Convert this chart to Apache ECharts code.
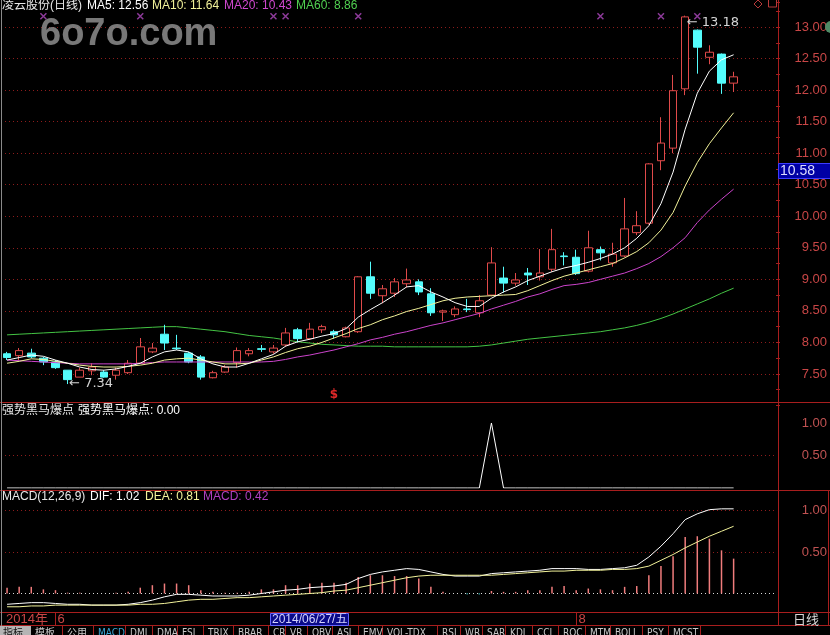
<!DOCTYPE html>
<html>
<head>
<meta charset="utf-8">
<title>凌云股份(日线)</title>
<script src="https://cdn.jsdelivr.net/npm/echarts@6/dist/echarts.min.js"></script>
<style>
html,body{margin:0;padding:0;background:#000;overflow:hidden;}
#chart{width:830px;height:635px;}
</style>
</head>
<body>
<div id="chart"></div>
<script>
// ================= DATA =================
const dates = [
 '2014/05/27','2014/05/28','2014/05/29','2014/05/30',
 '2014/06/03','2014/06/04','2014/06/05','2014/06/06','2014/06/09','2014/06/10','2014/06/11','2014/06/12','2014/06/13',
 '2014/06/16','2014/06/17','2014/06/18','2014/06/19','2014/06/20','2014/06/23','2014/06/24','2014/06/25','2014/06/26','2014/06/27','2014/06/30',
 '2014/07/01','2014/07/02','2014/07/03','2014/07/04','2014/07/07','2014/07/08','2014/07/09','2014/07/10','2014/07/11',
 '2014/07/14','2014/07/15','2014/07/16','2014/07/17','2014/07/18','2014/07/21','2014/07/22','2014/07/23','2014/07/24','2014/07/25',
 '2014/07/28','2014/07/29','2014/07/30','2014/07/31',
 '2014/08/01','2014/08/04','2014/08/05','2014/08/06','2014/08/07','2014/08/08','2014/08/11','2014/08/12','2014/08/13','2014/08/14','2014/08/15',
 '2014/08/18','2014/08/19','2014/08/20'
];
// [open, close, low, high]
const ohlc = [
 [7.82,7.76,7.72,7.85],[7.79,7.87,7.72,7.91],[7.83,7.77,7.75,7.90],[7.75,7.69,7.64,7.77],[7.69,7.60,7.58,7.72],
 [7.56,7.41,7.34,7.56],[7.45,7.56,7.45,7.60],[7.55,7.61,7.48,7.67],[7.53,7.45,7.44,7.56],[7.48,7.56,7.41,7.60],
 [7.52,7.67,7.50,7.72],[7.67,7.93,7.66,8.07],[7.85,7.91,7.83,7.99],[8.13,7.99,7.88,8.28],[7.91,7.90,7.88,8.12],
 [7.83,7.69,7.67,7.85],[7.77,7.45,7.41,7.80],[7.44,7.52,7.43,7.55],[7.53,7.61,7.52,7.64],[7.68,7.87,7.60,7.92],
 [7.82,7.87,7.78,7.91],[7.90,7.89,7.85,7.96],[7.85,7.91,7.82,7.96],[7.96,8.15,7.93,8.23],[8.20,8.06,8.00,8.23],
 [8.06,8.21,8.04,8.31],[8.20,8.25,8.15,8.28],[8.17,8.12,8.06,8.20],[8.09,8.23,8.08,8.25],[8.17,9.04,8.15,9.05],
 [9.04,8.78,8.69,9.28],[8.74,8.85,8.62,8.91],[8.78,8.96,8.72,9.02],[8.93,8.99,8.87,9.17],[8.96,8.80,8.75,9.00],
 [8.77,8.47,8.42,8.86],[8.48,8.50,8.34,8.52],[8.44,8.53,8.40,8.57],[8.53,8.52,8.48,8.69],[8.47,8.66,8.40,8.75],
 [8.75,9.26,8.73,9.51],[9.02,8.94,8.79,9.20],[8.94,8.99,8.90,9.10],[9.10,9.07,8.91,9.18],[9.04,9.10,8.98,9.48],
 [9.16,9.47,9.12,9.80],[9.37,9.36,9.22,9.43],[9.35,9.09,9.07,9.47],[9.13,9.50,9.11,9.77],[9.47,9.42,9.30,9.52],
 [9.26,9.40,9.20,9.58],[9.37,9.80,9.35,10.29],[9.74,9.85,9.70,10.08],[9.89,10.83,9.87,10.84],[10.88,11.16,10.73,11.57],
 [11.08,11.99,11.00,12.24],[12.02,13.16,11.92,13.18],[12.95,12.68,12.26,12.96],[12.52,12.60,12.41,12.71],[12.57,12.11,11.94,12.58],
 [12.11,12.21,11.97,12.29]
];
const ma5 = [7.72,7.76,7.80,7.78,7.72,7.67,7.61,7.57,7.56,7.58,
 7.62,7.67,7.77,7.85,7.88,7.85,7.74,7.66,7.61,7.61,
 7.67,7.74,7.81,7.94,8.01,8.05,8.10,8.14,8.22,8.40,
 8.52,8.63,8.75,8.88,8.90,8.80,8.72,8.63,8.57,8.57,
 8.70,8.80,8.88,8.98,9.05,9.12,9.18,9.22,9.27,9.33,
 9.40,9.50,9.65,9.85,10.20,10.70,11.38,11.95,12.30,12.48,12.56];
const ma10 = [7.67,7.70,7.74,7.73,7.70,7.67,7.64,7.62,7.61,7.61,
 7.62,7.64,7.67,7.72,7.74,7.75,7.72,7.69,7.66,7.66,
 7.67,7.72,7.77,7.84,7.90,7.94,8.00,8.07,8.14,8.22,
 8.28,8.36,8.42,8.49,8.54,8.60,8.66,8.70,8.72,8.73,
 8.74,8.75,8.76,8.82,8.90,8.98,9.05,9.10,9.15,9.20,
 9.25,9.34,9.44,9.58,9.78,10.06,10.48,10.85,11.15,11.40,11.64];
const ma20 = [7.72,7.71,7.70,7.69,7.68,7.67,7.66,7.66,7.66,7.66,
 7.66,7.67,7.68,7.69,7.69,7.69,7.69,7.69,7.69,7.69,
 7.69,7.69,7.70,7.73,7.77,7.80,7.84,7.88,7.93,7.98,
 8.04,8.08,8.13,8.17,8.22,8.27,8.31,8.36,8.41,8.46,
 8.53,8.59,8.65,8.72,8.77,8.84,8.90,8.92,8.95,9.00,
 9.05,9.10,9.17,9.25,9.36,9.50,9.66,9.90,10.10,10.27,10.43];
const ma60 = [8.12,8.13,8.14,8.15,8.16,8.17,8.18,8.19,8.20,8.21,
 8.22,8.23,8.24,8.25,8.25,8.23,8.21,8.19,8.17,8.14,
 8.11,8.09,8.07,8.04,8.01,7.99,7.97,7.96,7.95,7.94,
 7.94,7.94,7.93,7.93,7.93,7.93,7.93,7.93,7.93,7.94,
 7.96,7.99,8.02,8.05,8.07,8.09,8.11,8.13,8.15,8.17,
 8.20,8.23,8.27,8.32,8.38,8.45,8.53,8.61,8.69,8.78,8.86];
const horse = [0,0,0,0,0,0,0,0,0,0, 0,0,0,0,0,0,0,0,0,0,
 0,0,0,0,0,0,0,0,0,0, 0,0,0,0,0,0,0,0,0,0,
 1,0,0,0,0,0,0,0,0,0, 0,0,0,0,0,0,0,0,0,0, 0];
const dif = [-0.13,-0.12,-0.11,-0.11,-0.12,-0.13,-0.13,-0.14,-0.14,-0.14,
 -0.13,-0.11,-0.08,-0.04,-0.01,-0.01,-0.02,-0.03,-0.03,-0.03,
 -0.02,0.00,0.02,0.04,0.05,0.07,0.08,0.09,0.11,0.18,
 0.23,0.26,0.28,0.30,0.29,0.26,0.23,0.21,0.21,0.21,
 0.24,0.25,0.26,0.27,0.28,0.30,0.30,0.30,0.29,0.29,
 0.30,0.31,0.34,0.44,0.57,0.72,0.89,0.96,1.01,1.02,1.02];
const dea = [-0.16,-0.16,-0.15,-0.15,-0.14,-0.14,-0.14,-0.14,-0.14,-0.14,
 -0.14,-0.13,-0.13,-0.12,-0.10,-0.08,-0.07,-0.07,-0.06,-0.05,
 -0.05,-0.04,-0.03,-0.02,-0.01,0.00,0.01,0.03,0.04,0.07,
 0.10,0.13,0.16,0.19,0.21,0.22,0.22,0.22,0.22,0.22,
 0.22,0.23,0.24,0.25,0.26,0.27,0.27,0.28,0.28,0.28,
 0.29,0.29,0.30,0.33,0.40,0.47,0.55,0.62,0.69,0.75,0.81];
const macd = [0.07,0.08,0.08,0.05,0.04,0.01,0.01,0.00,0.00,0.01,
 0.02,0.07,0.10,0.12,0.12,0.10,0.04,0.02,0.01,0.01,
 0.02,0.05,0.05,0.10,0.10,0.12,0.13,0.13,0.13,0.20,
 0.22,0.22,0.21,0.21,0.18,0.08,0.02,0.00,-0.01,-0.01,
 0.03,0.02,0.02,0.04,0.04,0.08,0.09,0.04,0.06,0.05,
 0.04,0.08,0.09,0.22,0.33,0.45,0.68,0.69,0.66,0.52,0.42];
const priceTicks = [7.5,8.0,8.5,9.0,9.5,10.0,10.5,11.0,11.5,12.0,12.5,13.0];
const subTicks = [0.5,1.0];
const signalIdx = [3,11,22,23,29,49,54,57];   // purple x markers on top row
const signalLevel = 13.17;
const infoIdx = 27, infoLevel = 7.17;          // red "$" marker
const cursorIdx = 22, cursorPrice = 10.58;     // crosshair readouts
const weekNames = ['日','一','二','三','四','五','六'];

// ================= STYLE =================
const N = dates.length;
const cats = dates.concat([' ', '  ', '   ']);
const RED = '#e04a4a', CYAN = '#54fcfc', AXRED = '#a81e1e', LBRED = '#c84646', GRIDRED = '#8e1c1c';
const FONT = '"Liberation Sans","Noto Sans CJK SC",sans-serif';
const fmtMain = v => (v > 7.49 && v < 13.01) ? v.toFixed(2) : '';
const fmtSub = v => subTicks.some(t => Math.abs(v - t) < 1e-6) ? v.toFixed(2) : '';
const dotted = (vals, color) => ({
  z: 1, silent: true, symbol: ['none', 'none'], label: {show: false},
  lineStyle: {color: color, type: [1, 3], width: 1},
  data: vals.map(v => ({yAxis: v}))
});

const chart = echarts.init(document.getElementById('chart'), null, {renderer: 'canvas'});

const yBase = {
  type: 'value', position: 'right', axisLine: {show: false}, splitLine: {show: false},
  axisLabel: {color: LBRED, fontSize: 13, fontFamily: 'Liberation Sans', align: 'right', margin: 51}
};

const option = {
  backgroundColor: '#000',
  animation: false,
  grid: [
    {left: 1, right: 52, top: 1.76, height: 403.74},
    {left: 1, right: 52, top: 402, height: 86},
    {left: 1, right: 52, top: 490, height: 148.5}
  ],
  xAxis: [0, 1, 2].map(i => ({
    type: 'category', gridIndex: i, data: cats, boundaryGap: true,
    axisLine: {show: false}, axisTick: {show: false}, axisLabel: {show: false}, splitLine: {show: false}
  })),
  yAxis: [
    Object.assign({}, yBase, {gridIndex: 0, min: 7.0, max: 13.4, interval: 0.5,
      axisTick: {show: true, length: 4, lineStyle: {color: AXRED}},
      minorTick: {show: true, splitNumber: 2, length: 4, lineStyle: {color: AXRED}},
      axisLabel: Object.assign({}, yBase.axisLabel, {formatter: fmtMain})}),
    Object.assign({}, yBase, {gridIndex: 1, min: 0, max: 1.323, interval: 0.5, axisTick: {show: false},
      axisLabel: Object.assign({}, yBase.axisLabel, {formatter: fmtSub, color: '#c05252'})}),
    Object.assign({}, yBase, {gridIndex: 2, min: -0.5, max: 1.247, interval: 0.5, axisTick: {show: false},
      axisLabel: Object.assign({}, yBase.axisLabel, {formatter: fmtSub, color: '#c05252'})})
  ],
  series: [
    {
      name: 'MA60', type: 'line', xAxisIndex: 0, yAxisIndex: 0, data: ma60, symbol: 'none',
      lineStyle: {color: '#44c444', width: 1}, z: 2,
      markLine: dotted(priceTicks, GRIDRED)
    },
    {
      name: 'K', type: 'candlestick', xAxisIndex: 0, yAxisIndex: 0, data: ohlc, barWidth: 8, z: 3,
      itemStyle: {color: '#000', color0: CYAN, borderColor: RED, borderColor0: CYAN, borderWidth: 1},
      markPoint: {
        symbol: 'circle', symbolSize: 1, itemStyle: {color: 'transparent'},
        label: {show: true, color: '#d4d4d4', fontSize: 13, fontFamily: 'DejaVu Sans', position: 'right', distance: 1},
        data: [
          {name: 'high', type: 'max', valueDim: 'highest',
            label: {formatter: p => '← ' + Number(p.value).toFixed(2), offset: [0, 7]}},
          {name: 'low', type: 'min', valueDim: 'lowest',
            label: {formatter: p => '← ' + Number(p.value).toFixed(2), offset: [0, 0]}},
          {name: 'info', coord: [infoIdx, infoLevel], value: 0,
            label: {formatter: '$', color: '#e02828', position: 'inside', fontSize: 12, fontWeight: 'bold'}}
        ]
      }
    },
    {name: 'MA20', type: 'line', xAxisIndex: 0, yAxisIndex: 0, data: ma20, symbol: 'none', z: 4,
      lineStyle: {color: '#cc44cc', width: 1}},
    {name: 'MA10', type: 'line', xAxisIndex: 0, yAxisIndex: 0, data: ma10, symbol: 'none', z: 4,
      lineStyle: {color: '#f2f29a', width: 1}},
    {name: 'MA5', type: 'line', xAxisIndex: 0, yAxisIndex: 0, data: ma5, symbol: 'none', z: 4,
      lineStyle: {color: '#ffffff', width: 1}},
    {name: 'signal', type: 'scatter', xAxisIndex: 0, yAxisIndex: 0,
      data: signalIdx.map(i => [i, signalLevel]),
      symbol: 'path://M0,0L10,10M10,0L0,10', symbolSize: 6,
      itemStyle: {color: 'transparent', borderColor: '#b048c0', borderWidth: 1.5}, z: 5},
    {name: '强势黑马爆点', type: 'line', xAxisIndex: 1, yAxisIndex: 1, data: horse, symbol: 'none',
      lineStyle: {color: '#ffffff', width: 1}, markLine: dotted([0.5], GRIDRED)},
    {name: 'MACD', type: 'bar', xAxisIndex: 2, yAxisIndex: 2, data: macd, barWidth: 1.5,
      itemStyle: {color: p => p.value >= 0 ? '#f07c7c' : CYAN},
      markLine: dotted([0.5, 1.0], GRIDRED)},
    {name: 'DIF', type: 'line', xAxisIndex: 2, yAxisIndex: 2, data: dif, symbol: 'none',
      lineStyle: {color: '#ffffff', width: 1}, markLine: dotted([0], '#d8d8d8')},
    {name: 'DEA', type: 'line', xAxisIndex: 2, yAxisIndex: 2, data: dea, symbol: 'none',
      lineStyle: {color: '#f2f29a', width: 1}}
  ]
};
chart.setOption(option);

// ================= DECORATIONS =================
function T(x, y, text, fill, size, extra, family) {
  const st = {text: text, fill: fill, font: size + 'px ' + (family || FONT),
    align: 'left', verticalAlign: 'middle', textAlign: 'left', textVerticalAlign: 'middle'};
  if (extra) Object.assign(st, extra);
  return {type: 'text', x: x, y: y, z: 100, silent: true, style: st};
}
function L(x1, y1, x2, y2, color) {
  return {type: 'line', z: 90, silent: true, shape: {x1: x1, y1: y1, x2: x2, y2: y2}, style: {stroke: color, lineWidth: 1}};
}
const last = N - 1;
const g = [];
// pane separators & borders
g.push(L(0, 402.5, 830, 402.5, AXRED));
g.push(L(0, 490.5, 830, 490.5, AXRED));
g.push(L(0, 612.5, 830, 612.5, AXRED));
g.push(L(0, 625.5, 830, 625.5, AXRED));
g.push(L(778.5, 0, 778.5, 626, AXRED));
g.push(L(828.5, 490, 828.5, 626, AXRED));
g.push(L(1.5, 0, 1.5, 626, '#8a8a8a'));
// titles
g.push(T(2, 6, '凌云股份(日线)', '#e8e8e8', 12));
g.push(T(87, 6, 'MA5: ' + ma5[last].toFixed(2), '#ffffff', 12));
g.push(T(152, 6, 'MA10: ' + ma10[last].toFixed(2), '#f2f29a', 12));
g.push(T(224, 6, 'MA20: ' + ma20[last].toFixed(2), '#d048d0', 12));
g.push(T(296, 6, 'MA60: ' + ma60[last].toFixed(2), '#50d050', 12));
g.push(T(2, 411, '强势黑马爆点', '#e8e8e8', 12));
g.push(T(78, 411, '强势黑马爆点: ' + horse[last].toFixed(2), '#ffffff', 12));
g.push(T(2, 497, 'MACD(12,26,9)', '#e8e8e8', 12));
g.push(T(90, 497, 'DIF: ' + dif[last].toFixed(2), '#ffffff', 12));
g.push(T(145, 497, 'DEA: ' + dea[last].toFixed(2), '#f2f29a', 12));
g.push(T(203, 497, 'MACD: ' + macd[last].toFixed(2), '#b040c0', 12));
// watermark
g.push({type: 'text', x: 40, y: 35, z: 120, silent: true,
  style: {text: '6o7o.com', fill: 'rgba(150,150,150,0.8)', font: 'bold 38px "Liberation Sans",sans-serif',
    align: 'left', verticalAlign: 'middle', textAlign: 'left', textVerticalAlign: 'middle'}});
// top-right icons
g.push({type: 'polygon', z: 100, silent: true, shape: {points: [[758, 0], [762, 4], [758, 8], [754, 4]]},
  style: {fill: 'none', stroke: '#b83a3a', lineWidth: 1}});
g.push({type: 'rect', z: 100, silent: true, shape: {x: 768.5, y: -1, width: 8, height: 8},
  style: {fill: 'none', stroke: '#b83a3a', lineWidth: 1}});
g.push({type: 'circle', z: 100, silent: true, shape: {cx: 831, cy: 27, r: 6}, style: {fill: '#4f8a66'}});
// crosshair price box on right axis
const py = chart.convertToPixel({yAxisIndex: 0}, cursorPrice);
g.push({type: 'rect', z: 110, silent: true, shape: {x: 778.5, y: Math.round(py) - 16.5, width: 54, height: 15},
  style: {fill: '#0000a4', stroke: '#3c3cff', lineWidth: 1}});
g.push(Object.assign(T(780, Math.round(py) - 9, cursorPrice.toFixed(2), '#dcdcff', 14), {z: 111}));
// bottom time axis row
const xOf = i => chart.convertToPixel({xAxisIndex: 2}, i);
g.push(T(6, 619, dates[0].slice(0, 4) + '年', LBRED, 13));
for (let i = 1; i < N; i++) {
  if (dates[i].slice(5, 7) !== dates[i - 1].slice(5, 7)) {
    const x = Math.round(xOf(i)) + 0.5;
    g.push(L(x, 612, x, 625, AXRED));
    g.push(T(x + 2, 619, String(parseInt(dates[i].slice(5, 7), 10)), LBRED, 13));
  }
}
const dParts = dates[cursorIdx].split('/');
const wk = weekNames[new Date(+dParts[0], +dParts[1] - 1, +dParts[2]).getDay()];
const bx = Math.round(xOf(cursorIdx)) - 2.5;
g.push({type: 'rect', z: 110, silent: true, shape: {x: bx, y: 613.5, width: 78, height: 12},
  style: {fill: '#0a0a8a', stroke: '#6464ff', lineWidth: 1}});
g.push(Object.assign(T(bx + 1.5, 620, dates[cursorIdx] + '/' + wk, '#d4d4ff', 12), {z: 111}));
g.push(T(793, 620, '日线', '#d6d6d6', 13));
// bottom tab row (partly cut off by the window edge)
const tabNames = ['指标','模板','公用','MACD','DMI','DMA','FSL','TRIX','BRAR','CR','VR','OBV','ASI','EMV','VOL-TDX','RSI','WR','SAR','KDJ','CCI','ROC','MTM','BOLL','PSY','MCST'];
const tabX = [3,35,67,98,130,157,182,208,238,273,290,312,337,363,387,442,465,487,510,537,563,590,615,647,673];
const TABFONT = '"Liberation Sans Narrow","DejaVu Sans Condensed","Liberation Sans","Noto Sans CJK SC",sans-serif';
g.push({type: 'rect', z: 95, silent: true, shape: {x: 0, y: 626, width: 31, height: 10}, style: {fill: '#b4b4b4'}});
tabNames.forEach((t, i) => {
  const col = i === 0 ? '#101010' : (t === 'MACD' ? '#3aa6d6' : '#c8c8c8');
  g.push(T(tabX[i], 628, t, col, 10, {verticalAlign: 'top', textVerticalAlign: 'top'}, TABFONT));
  if (i > 0) g.push(L(tabX[i] - 4.5, 626, tabX[i] - 4.5, 635, AXRED));
});
g.push(L(700.5, 626, 700.5, 635, AXRED));

chart.setOption({graphic: {elements: g}});
</script>
</body>
</html>
